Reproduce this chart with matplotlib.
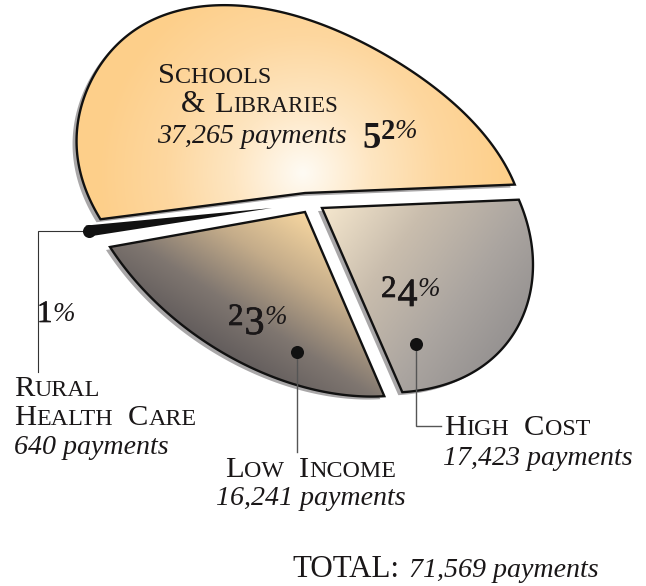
import numpy as np
import matplotlib
matplotlib.use("Agg")
import matplotlib.pyplot as plt
import matplotlib.patheffects as pe
from matplotlib.patches import Polygon
from matplotlib.colors import LinearSegmentedColormap

# Universal service payments by programme
programs = ["Schools & Libraries", "Rural Health Care", "Low Income", "High Cost"]
payments = [37265, 640, 16241, 17423]
percent_labels = ["52", "1", "23", "24"]
total_payments = "71,569"

W, H = 646, 586
fig = plt.figure(figsize=(W / 100, H / 100), dpi=100)
ax = fig.add_axes([0, 0, 1, 1])
ax.set_xlim(0, W)
ax.set_ylim(H, 0)
ax.axis("off")

SERIF = "Liberation Serif"
INK = "#1a1718"

# Tilted-ellipse projection of the pie
RIM_CENTER = np.array([299.0, 194.0])
TILT = np.radians(33.9)
E1 = np.array([np.cos(TILT), np.sin(TILT)]) * 240
E2 = np.array([np.sin(TILT), -np.cos(TILT)]) * 160
START = 46.5
APEXES = [(305, 193), (272, 208), (305, 212), (322, 208)]
RIM_SHIFTS = [(2, -5), (-24, 3), (-6, 14), (12, 10)]
RIM_SCALES = [0.975, 1.0, 1.0, 1.0]
BULGES = [0.085, 0.0, 0.0, 0.03]


def wedge_points(a0, a1, apex, shift, scale, bulge):
    deg = np.linspace(a0, a1, 200)
    phi = np.radians(deg)
    swell = scale + bulge * np.cos(np.radians(deg - 50)) ** 6
    rim = RIM_CENTER + np.outer(swell * np.cos(phi), E1) + np.outer(swell * np.sin(phi), E2)
    return np.vstack([apex, rim + np.array(shift)])


def gradient_fill(poly, field, colors, z):
    xs, ys = np.meshgrid(np.arange(0, W, 2.0), np.arange(0, H, 2.0))
    cmap = LinearSegmentedColormap.from_list("fill", colors)
    im = ax.imshow(np.clip(field(xs, ys), 0, 1), cmap=cmap, vmin=0, vmax=1,
                   extent=(0, W, H, 0), zorder=z, interpolation="bilinear",
                   aspect="auto")
    patch = Polygon(poly, closed=True, transform=ax.transData, fc="none", ec="none")
    ax.add_patch(patch)
    im.set_clip_path(patch)


def linear(x0, y0, x1, y1):
    dx, dy = x1 - x0, y1 - y0
    n = dx * dx + dy * dy
    return lambda x, y: ((x - x0) * dx + (y - y0) * dy) / n


def radial(x0, y0, r):
    return lambda x, y: np.hypot(x - x0, y - y0) / r


fills = [
    (radial(302, 172, 205), ["#FFFBF4", "#FEE6C2", "#FDD79F", "#FDCF8A"]),
    None,
    (linear(305, 212, 210, 360), ["#F6D6A0", "#C4AC8A", "#7F7670", "#5B5657"]),
    (linear(325, 208, 520, 350), ["#F3E5CC", "#C9BDAD", "#ABA5A0", "#918E8E"]),
]

angles = np.cumsum([0] + payments) / sum(payments) * 360 + START
for i in range(len(programs)):
    poly = wedge_points(angles[i], angles[i + 1], APEXES[i], RIM_SHIFTS[i],
                        RIM_SCALES[i], BULGES[i])
    if fills[i] is None:
        ax.add_patch(Polygon(poly, closed=True, fc="#111111", ec="none", zorder=4))
        continue
    ax.add_patch(Polygon(poly + np.array([-4, 3]), closed=True, fc="#a9a7a8",
                         ec="none", zorder=1))
    gradient_fill(poly, *fills[i], z=2)
    ax.add_patch(Polygon(poly, closed=True, fc="none", ec="#111111", lw=1.7,
                         joinstyle="miter", zorder=3))

# Leader lines and their dots
leaders = [
    ([89, 38, 38], [231, 231, 372], "#333333", 0.8),
    ([297, 297], [352, 452], "#555555", 1.0),
    ([416, 416, 441], [344, 426, 426], "#555555", 1.0),
]
dots = [(89, 231), (297, 352), (416, 344)]
for xs, ys, c, lw in leaders:
    ax.plot(xs, ys, color=c, lw=lw, zorder=5, solid_joinstyle="miter")
for x, y in dots:
    ax.plot([x], [y], "o", ms=9.4, color="#111111", mec="none", zorder=6)

renderer = fig.canvas.get_renderer()


def run(x, y, pieces, weight="normal", stroke=0.0):
    """Draw consecutive text pieces on one baseline; each is (text, px size, style)."""
    for s, size, style in pieces:
        t = ax.text(x, y, s, fontsize=size * 0.72, family=SERIF, style=style,
                    weight=weight, color=INK, ha="left", va="baseline", zorder=7)
        if stroke:
            t.set_path_effects([pe.withStroke(linewidth=stroke, foreground=INK)])
        x += t.get_window_extent(renderer).width
    return x


def small_caps(x, y, text, big=30.5, small=24):
    for n, word in enumerate(text.split(" ")):
        if n:
            x += big * 0.5
        x = run(x, y, [(word[0], big, "normal")])
        if word[1:]:
            x = run(x, y, [(word[1:].upper(), small, "normal")])
    return x


def percent(x, y, value, weight="normal", scale=1.0, stroke=0.5):
    # Old-style numerals: 3, 4 and 5 hang below the baseline
    for digit in value:
        if digit in "345":
            x = run(x + 1, y + 9, [(digit, 40 * scale, "normal")], weight, stroke)
        else:
            x = run(x, y, [(digit, 31 * scale, "normal")], weight, stroke)
    run(x, y - 1, [("%", 27, "italic")])


def count(x, y, value, size=28):
    run(x, y, [(f"{value:,} payments", size, "italic")])


# Schools & Libraries
small_caps(158, 83, "Schools")
run(181, 112, [("&", 31, "normal")])
small_caps(214, 112, "Libraries", small=23)
count(157, 143, payments[0])
percent(361, 139, percent_labels[0], weight="bold", scale=0.92, stroke=0.0)

# Rural Health Care
percent(37, 322, percent_labels[1])
small_caps(14, 396, "Rural")
small_caps(14, 425, "Health Care")
count(14, 454, payments[1])

# Low Income
percent(228, 325, percent_labels[2])
small_caps(225, 477, "Low Income")
count(216, 505, payments[2])

# High Cost
percent(381, 297, percent_labels[3])
small_caps(444, 435, "High Cost")
count(443, 465, payments[3])

# Grand total
x = run(292, 577, [("TOTAL:", 31, "normal")])
run(409, 577, [(f"{total_payments} payments", 28, "italic")])

fig.savefig("out.png", dpi=100)
